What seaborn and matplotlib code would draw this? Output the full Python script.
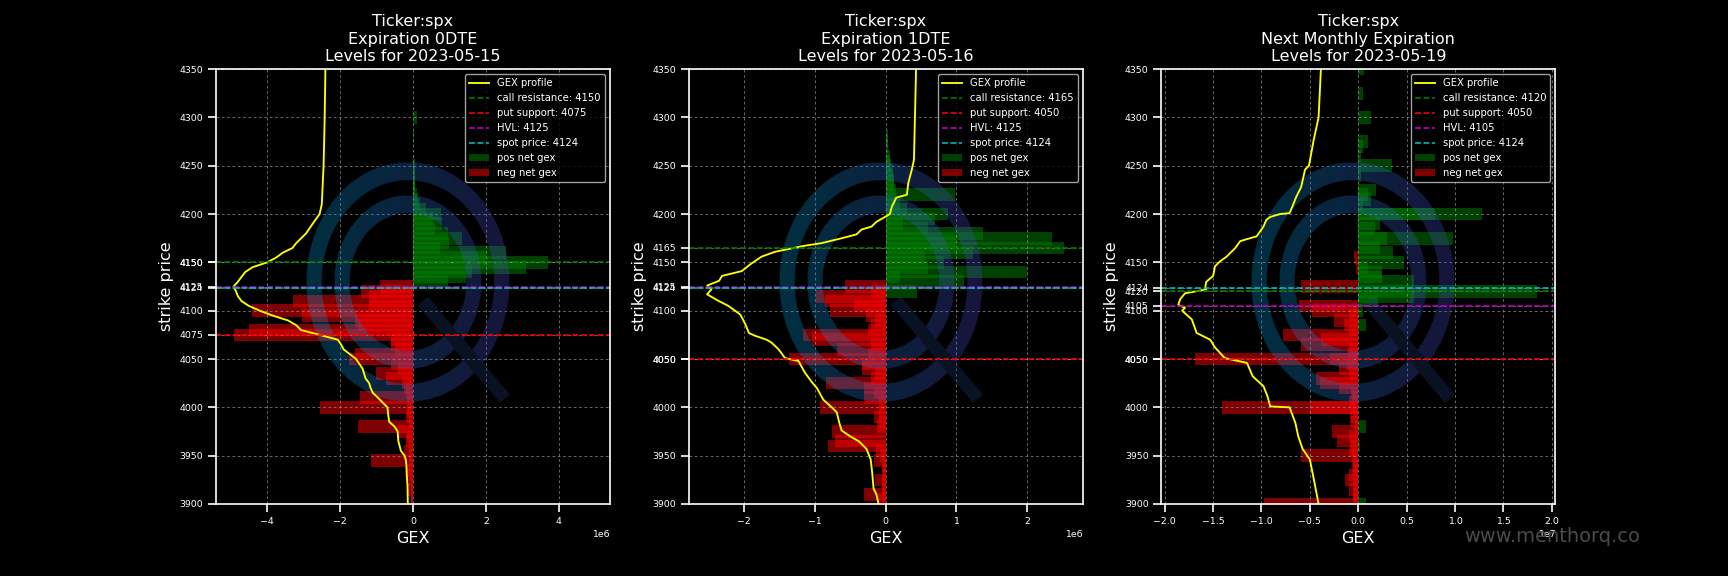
import numpy as np
import matplotlib
matplotlib.use("Agg")
import matplotlib.pyplot as plt
import seaborn as sns

# ---- data (gex in units of 1e6 / 1e6 / 1e7) ----
titles = ["Ticker:spx\nExpiration 0DTE\nLevels for 2023-05-15",
          "Ticker:spx\nExpiration 1DTE\nLevels for 2023-05-16",
          "Ticker:spx\nNext Monthly Expiration\nLevels for 2023-05-19"]
scales = [1e6, 1e6, 1e7]
xmax = [5.4, 2.78, 2.035]
call_res = [4150, 4165, 4120]
put_sup = [4075, 4050, 4050]
hvl = [4125, 4125, 4105]
spot = [4124, 4124, 4124]

# panel 1 (0DTE)
p1_prof_k = [4350, 4300, 4250, 4210, 4200, 4190, 4180, 4170, 4165, 4160, 4155, 4150, 4145, 4140,
             4135, 4130, 4125, 4120, 4115, 4110, 4105, 4100, 4095, 4090, 4085, 4080, 4075, 4070,
             4065, 4060, 4055, 4050, 4045, 4040, 4030, 4025, 4020, 4015, 4010, 4000, 3990, 3985,
             3980, 3975, 3965, 3955, 3950, 3945, 3940, 3930, 3920, 3900]
p1_prof_g = [-2.40, -2.42, -2.45, -2.50, -2.56, -2.75, -2.93, -3.20, -3.30, -3.57, -3.75, -4.00, -4.40, -4.60,
             -4.70, -4.80, -4.92, -4.85, -4.80, -4.70, -4.50, -4.20, -3.85, -3.43, -3.20, -3.07, -2.56, -2.06,
             -1.97, -1.90, -1.73, -1.56, -1.47, -1.38, -1.30, -1.20, -1.16, -1.10, -0.96, -0.70, -0.67, -0.65,
             -0.50, -0.42, -0.40, -0.33, -0.23, -0.19, -0.18, -0.17, -0.15, -0.14]
p1_pos_k = [4300, 4280, 4255, 4250, 4245, 4240, 4235, 4230, 4225, 4220, 4215, 4210, 4205, 4200, 4195,
            4190, 4185, 4180, 4175, 4170, 4165, 4160, 4155, 4150, 4145, 4140, 4135, 4130]
p1_pos_g = [0.12, 0.02, 0.04, 0.05, 0.05, 0.05, 0.05, 0.06, 0.07, 0.10, 0.14, 0.20, 0.35, 0.78, 0.55,
            0.80, 0.60, 0.95, 1.34, 1.00, 0.75, 2.55, 2.00, 3.70, 3.10, 1.62, 1.45, 0.95]
p1_neg_k = [4125, 4120, 4115, 4110, 4105, 4100, 4095, 4090, 4085, 4080, 4075, 4070, 4065, 4060, 4055,
            4050, 4045, 4040, 4035, 4030, 4025, 4020, 4015, 4010, 4005, 4000, 3995, 3990, 3985, 3980,
            3975, 3970, 3965, 3960, 3955, 3950, 3945, 3940, 3935, 3930, 3925, 3920, 3915, 3910, 3905, 3900]
p1_neg_g = [-0.89, -1.42, -1.20, -3.30, -1.20, -4.40, -3.05, -1.60, -1.50, -4.50, -4.90, -0.60, -0.60, -0.50, -1.60,
            -1.75, -0.60, -0.40, -1.00, -0.75, -0.30, -0.25, -0.20, -1.45, -0.15, -2.55, -0.15, -0.20, -0.10, -1.50,
            -0.45, -0.15, -0.20, -0.10, -0.25, -0.10, -1.15, -0.10, -0.15, -0.20, -0.10, -0.05, -0.15, -0.05, -0.05, -0.05]

# panel 2 (1DTE)
p2_prof_k = [4350, 4318, 4256, 4246, 4232, 4220, 4217, 4208, 4200, 4197, 4192, 4187, 4184, 4179, 4175,
             4170, 4167, 4161, 4156, 4148, 4141, 4136, 4131, 4126, 4122, 4117, 4111, 4105, 4096, 4086,
             4077, 4074, 4070, 4067, 4060, 4051, 4048, 4036, 4026, 4020, 4008, 4000, 3995, 3983, 3976,
             3970, 3965, 3957, 3946, 3933, 3916, 3910, 3900]
p2_prof_g = [0.43, 0.42, 0.40, 0.37, 0.32, 0.30, 0.15, 0.09, 0.06, -0.01, -0.13, -0.20, -0.34, -0.41, -0.62,
             -0.90, -1.16, -1.56, -1.75, -1.91, -2.03, -2.31, -2.35, -2.52, -2.46, -2.52, -2.38, -2.22, -2.05, -1.98,
             -1.93, -1.84, -1.68, -1.61, -1.51, -1.42, -1.23, -1.14, -1.04, -0.97, -0.88, -0.76, -0.69, -0.65, -0.62,
             -0.50, -0.38, -0.27, -0.21, -0.19, -0.17, -0.13, -0.10]
p2_pos_k = [4345, 4280, 4275, 4270, 4260, 4255, 4250, 4245, 4240, 4235, 4230, 4225, 4220, 4215, 4210,
            4205, 4200, 4195, 4190, 4185, 4180, 4175, 4170, 4165, 4160, 4155, 4150, 4145, 4140, 4135,
            4130, 4120]
p2_pos_g = [0.01, 0.03, 0.03, 0.04, 0.06, 0.06, 0.08, 0.10, 0.10, 0.12, 0.12, 0.15, 0.98, 0.15, 0.20,
            0.30, 0.88, 0.70, 0.25, 0.60, 1.38, 2.35, 1.00, 2.52, 1.24, 0.55, 0.83, 0.60, 2.00, 0.20,
            1.10, 0.45]
p2_neg_k = [4125, 4120, 4115, 4110, 4105, 4100, 4095, 4090, 4085, 4080, 4075, 4070, 4065, 4060, 4055,
            4050, 4045, 4040, 4035, 4030, 4025, 4020, 4015, 4010, 4005, 4000, 3995, 3990, 3985, 3980,
            3975, 3965, 3960, 3955, 3950, 3945, 3940, 3935, 3930, 3925, 3920, 3915, 3910, 3905, 3900]
p2_neg_g = [-0.58, -0.20, -0.98, -0.85, -0.44, -0.79, -0.27, -0.15, -0.20, -0.25, -1.17, -1.04, -0.20, -0.68, -0.25,
            -1.37, -0.34, -0.34, -0.15, -0.20, -0.84, -0.30, -0.17, -0.30, -0.10, -0.92, -0.10, -0.17, -0.10, -0.12,
            -0.75, -0.72, -0.81, -0.13, -0.08, -0.17, -0.05, -0.03, -0.05, -0.15, -0.05, -0.05, -0.30, -0.11, -0.05]

# panel 3 (monthly)
p3_prof_k = [4350, 4300, 4277, 4266, 4250, 4246, 4228, 4218, 4208, 4201, 4200, 4197, 4194, 4187, 4177,
             4172, 4165, 4156, 4151, 4146, 4136, 4130, 4125, 4122, 4118, 4112, 4106, 4103, 4100, 4091,
             4077, 4070, 4062, 4051, 4046, 4032, 4022, 4012, 4001, 4000, 3984, 3970, 3957, 3946, 3926, 3900]
p3_prof_g = [-0.386, -0.41, -0.46, -0.48, -0.51, -0.55, -0.59, -0.64, -0.68, -0.71, -0.81, -0.91, -0.95, -0.98, -1.05,
             -1.22, -1.27, -1.36, -1.43, -1.48, -1.50, -1.57, -1.58, -1.57, -1.79, -1.84, -1.86, -1.79, -1.82, -1.72,
             -1.67, -1.53, -1.48, -1.38, -1.15, -1.09, -0.98, -0.94, -0.91, -0.71, -0.65, -0.62, -0.575, -0.50, -0.46, -0.41]
p3_pos_k = [4350, 4325, 4300, 4275, 4270, 4260, 4250, 4240, 4225, 4220, 4215, 4210, 4200, 4200, 4190,
            4185, 4175, 4175, 4165, 4160, 4150, 4145, 4140, 4135, 4130, 4120, 4115, 4110, 4100, 4085,
            3980, 3960, 3900]
p3_pos_g = [0.06, 0.045, 0.13, 0.10, 0.05, 0.03, 0.35, 0.03, 0.18, 0.10, 0.13, 0.05, 1.28, 0.79, 0.22,
            0.17, 0.98, 0.30, 0.22, 0.36, 0.47, 0.10, 0.25, 0.25, 0.58, 1.85, 0.58, 0.20, 0.05, 0.08,
            0.08, 0.02, 0.08]
p3_neg_k = [4155, 4145, 4125, 4105, 4100, 4095, 4090, 4085, 4080, 4075, 4070, 4065, 4060, 4055, 4050,
            4050, 4045, 4040, 4035, 4030, 4025, 4020, 4015, 4010, 4005, 4000, 4000, 3995, 3990, 3985,
            3980, 3975, 3970, 3965, 3960, 3955, 3950, 3945, 3940, 3935, 3930, 3925, 3920, 3915, 3910,
            3905, 3900]
p3_neg_g = [-0.04, -0.02, -0.59, -0.61, -0.48, -0.10, -0.25, -0.15, -0.10, -0.78, -0.39, -0.59, -0.10, -0.12, -1.69,
            -0.29, -0.12, -0.20, -0.10, -0.44, -0.40, -0.20, -0.08, -0.06, -0.10, -1.41, -0.50, -0.05, -0.09, -0.08,
            -0.03, -0.27, -0.10, -0.22, -0.08, -0.10, -0.59, -0.05, -0.06, -0.05, -0.10, -0.14, -0.05, -0.10, -0.05,
            -0.05, -0.97]

profiles = [(p1_prof_k, p1_prof_g), (p2_prof_k, p2_prof_g), (p3_prof_k, p3_prof_g)]
pos_bars = [(p1_pos_k, p1_pos_g), (p2_pos_k, p2_pos_g), (p3_pos_k, p3_pos_g)]
neg_bars = [(p1_neg_k, p1_neg_g), (p2_neg_k, p2_neg_g), (p3_neg_k, p3_neg_g)]


def logo_image(n=400):
    # watermark: two rings + diagonal tail, horizontal teal->purple gradient
    u = np.linspace(-1.1, 1.1, n)
    U, V = np.meshgrid(u, u)
    r = np.hypot(U, V)
    ring = ((r >= 0.85) & (r <= 1.0)) | ((r >= 0.575) & (r <= 0.725))
    px, py = U * 101.7, V * 120
    p0 = np.array([15.0, -19.0])
    p1 = np.array([97.0, -117.0])
    d = p1 - p0
    t = ((px - p0[0]) * d[0] + (py - p0[1]) * d[1]) / (d @ d)
    perp = np.abs((px - p0[0]) * d[1] - (py - p0[1]) * d[0]) / np.sqrt(d @ d)
    tail = (t >= 0) & (t <= 1) & (perp <= 6.5)
    g = np.clip((U + 1) / 2, 0, 1)[..., None]
    left = np.array([0.0, 0.63, 0.86])
    right = np.array([0.31, 0.27, 0.78])
    rgb = left * (1 - g) + right * g
    rgb[tail] = [0.12, 0.24, 0.47]
    img = np.zeros((n, n, 4))
    img[..., :3] = rgb
    img[..., 3] = np.where(ring | tail, 0.3, 0.0)
    return img


plt.style.use("dark_background")
sns.set_context("notebook")
fig, axes = plt.subplots(1, 3, figsize=(18, 6), dpi=96)
fig.subplots_adjust(left=0.125, right=0.9, top=0.88, bottom=0.125, wspace=0.2)

logo = logo_image()

for i, ax in enumerate(axes):
    s = scales[i]
    k, g = profiles[i]
    sns.lineplot(x=np.array(g) * s, y=k, sort=False, orient="y", estimator=None,
                 color="yellow", lw=1.4, label="GEX profile", ax=ax)
    ax.axhline(call_res[i], color="g", ls="--", lw=1.2, label=f"call resistance: {call_res[i]}")
    ax.axhline(put_sup[i], color="r", ls="--", lw=1.2, label=f"put support: {put_sup[i]}")
    ax.axhline(hvl[i], color="m", ls="--", lw=1.2, label=f"HVL: {hvl[i]}")
    ax.axhline(spot[i], color="c", ls="--", lw=1.2, label=f"spot price: {spot[i]}")
    pk, pg = pos_bars[i]
    ax.barh(pk, np.array(pg) * s, height=13, color="green", alpha=0.5, label="pos net gex")
    nk, ng = neg_bars[i]
    ax.barh(nk, np.array(ng) * s, height=13, color="red", alpha=0.5, label="neg net gex")

    lim = xmax[i] * s
    cx, cy, hw, hh = 0.487, 0.51, 1.1 * 101.7 / 394, 1.1 * 120 / 436
    ext = [-lim + (cx - hw) * 2 * lim, -lim + (cx + hw) * 2 * lim,
           3900 + (cy - hh) * 450, 3900 + (cy + hh) * 450]
    ax.imshow(logo, extent=ext, origin="lower", aspect="auto", zorder=1.8, interpolation="bilinear")

    ax.set_xlim(-lim, lim)
    ax.set_ylim(3900, 4350)
    ax.set_yticks(list(range(3900, 4351, 50)) + [call_res[i], put_sup[i], hvl[i], spot[i]])
    ax.tick_params(labelsize=7)
    ax.xaxis.get_offset_text().set_fontsize(7)
    ax.grid(True, color="#9a9a9a", ls=(0, (4, 4)), lw=0.5)
    ax.set_title(titles[i], fontsize=12)
    ax.set_xlabel("GEX", fontsize=12)
    ax.set_ylabel("strike price", fontsize=12)
    ax.legend(loc="upper right", fontsize=7.5)

fig.text(0.898, 0.068, "www.menthorq.co", color="#4b4b4b", fontsize=14.5, ha="center", va="center")

fig.savefig("out.png", dpi=96)
